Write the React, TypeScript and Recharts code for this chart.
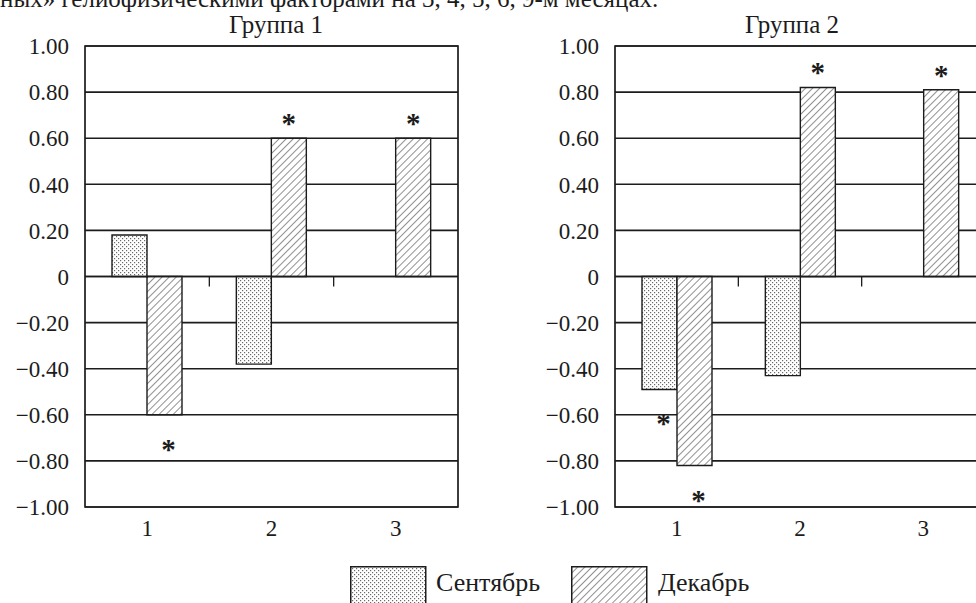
import React from 'react'
import {
  BarChart,
  Bar,
  XAxis,
  YAxis,
  CartesianGrid,
  ReferenceArea,
  ReferenceLine,
  LabelList,
} from 'recharts'

// categories on the x axis
const categories = ['1', '2', '3']

// Группа 1
const sep1: (number | null)[] = [0.18, -0.38, null]
const dec1: (number | null)[] = [-0.6, 0.6, 0.6]
const sepSig1 = [false, false, false]
const decSig1 = [true, true, true]

// Группа 2
const sep2: (number | null)[] = [-0.49, -0.43, null]
const dec2: (number | null)[] = [-0.82, 0.82, 0.81]
const sepSig2 = [true, false, false]
const decSig2 = [true, true, true]

const yTicks = [-1, -0.8, -0.6, -0.4, -0.2, 0, 0.2, 0.4, 0.6, 0.8, 1]

const FONT = '"Liberation Serif", "DejaVu Serif", serif'
const INK = '#1c1c1c'

function fmtTick(v: number): string {
  if (v === 0) return '0'
  return v.toFixed(2).replace('-', '\u2212')
}

function YTick(props: any) {
  const { x, y, payload } = props
  return (
    <text x={x} y={y} dy="0.36em" textAnchor="end" fontFamily={FONT} fontSize={23} fill={INK}>
      {fmtTick(payload.value)}
    </text>
  )
}

function XTick(props: any) {
  const { x, y, payload } = props
  return (
    <text x={x} y={y} dy="0.75em" textAnchor="middle" fontFamily={FONT} fontSize={23} fill={INK}>
      {payload.value}
    </text>
  )
}

/** Star marks for significant values: above positive bars, below negative ones */
function makeStar(values: (number | null)[], sig: boolean[]) {
  return (props: any) => {
    const i = props.index
    if (i == null || !sig[i]) return null
    const v = values[i]
    if (v == null) return null
    const vb = props.viewBox || props
    const x = Number(vb.x)
    const y = Number(vb.y)
    const w = Number(vb.width)
    const h = Number(vb.height)
    const top = Math.min(y, y + h)
    const bottom = Math.max(y, y + h)
    const cx = v >= 0 ? x + w / 2 : x + w / 2 + 4
    const cy = v >= 0 ? top - 18 : bottom + 31
    return (
      <text
        key={`star-${i}`}
        x={cx}
        y={cy + 13}
        textAnchor="middle"
        fontFamily={FONT}
        fontSize={29}
        fontWeight="bold"
        fill={INK}
      >
        *
      </text>
    )
  }
}

/** zero line with small ticks at category boundaries */
function ZeroLine(props: any) {
  const { x1, x2, y1 } = props
  const step = (x2 - x1) / categories.length
  return (
    <g>
      <line x1={x1} x2={x2} y1={y1} y2={y1} stroke={INK} strokeWidth={1.6} />
      {categories.slice(1).map((_, k) => (
        <line
          key={k}
          x1={x1 + step * (k + 1)}
          x2={x1 + step * (k + 1)}
          y1={y1}
          y2={y1 + 10}
          stroke={INK}
          strokeWidth={1.3}
        />
      ))}
    </g>
  )
}

interface PanelProps {
  sep: (number | null)[]
  dec: (number | null)[]
  sepSig: boolean[]
  decSig: boolean[]
  width: number
  margin: { top: number; right: number; bottom: number; left: number }
}

function Panel({ sep, dec, sepSig, decSig, width, margin }: PanelProps) {
  const data = categories.map((c, i) => ({ cat: c, sep: sep[i], dec: dec[i] }))
  return (
    <BarChart
      width={width}
      height={545}
      data={data}
      margin={margin}
      barGap={0}
      barSize={35}
    >
      <CartesianGrid vertical={false} stroke={INK} strokeWidth={1.6} />
      <XAxis
        dataKey="cat"
        axisLine={false}
        tickLine={false}
        height={30}
        tickMargin={6}
        tick={<XTick />}
      />
      <YAxis
        domain={[-1, 1]}
        ticks={yTicks}
        interval={0}
        width={70}
        axisLine={false}
        tickLine={false}
        tickMargin={10}
        tick={<YTick />}
      />
      <ReferenceArea
        y1={-1}
        y2={1}
        fill="none"
        fillOpacity={0}
        stroke={INK}
        strokeWidth={1.7}
        ifOverflow="visible"
      />
      <ReferenceLine y={0} shape={<ZeroLine />} />
      <Bar
        dataKey="sep"
        fill="url(#dotsPat)"
        stroke={INK}
        strokeWidth={1.4}
        isAnimationActive={false}
      >
        <LabelList dataKey="sep" content={makeStar(sep, sepSig)} />
      </Bar>
      <Bar
        dataKey="dec"
        fill="url(#hatchPat)"
        stroke={INK}
        strokeWidth={1.4}
        isAnimationActive={false}
      >
        <LabelList dataKey="dec" content={makeStar(dec, decSig)} />
      </Bar>
    </BarChart>
  )
}

function Swatch({ fill }: { fill: string }) {
  return (
    <svg width={77} height={40} style={{ display: 'block' }}>
      <rect x={0.75} y={0.75} width={75} height={60} fill={fill} stroke={INK} strokeWidth={1.5} />
    </svg>
  )
}

export default function App() {
  return (
    <div
      style={{
        position: 'absolute',
        left: 0,
        top: 0,
        width: 976,
        height: 603,
        overflow: 'hidden',
        background: '#fff',
        fontFamily: FONT,
        color: INK,
      }}
    >
      <svg width={0} height={0} style={{ position: 'absolute' }}>
        <defs>
          <pattern id="dotsPat" width={4} height={4} patternUnits="userSpaceOnUse">
            <rect width={4} height={4} fill="#fff" />
            <rect x={0} y={0} width={1.2} height={1.2} fill="#6a6a6a" />
            <rect x={2} y={2} width={1.2} height={1.2} fill="#6a6a6a" />
          </pattern>
          <pattern
            id="hatchPat"
            width={5}
            height={5}
            patternUnits="userSpaceOnUse"
            patternTransform="rotate(45)"
          >
            <rect width={5} height={5} fill="#fff" />
            <line x1={0} y1={0} x2={0} y2={5} stroke="#555" strokeWidth={1.3} />
          </pattern>
        </defs>
      </svg>

      {/* cut-off caption line from the page above */}
      <div
        style={{
          position: 'absolute',
          left: 0,
          top: -14,
          fontSize: 25,
          lineHeight: '25px',
          whiteSpace: 'nowrap',
        }}
      >
        ных» гелиофизическими факторами на 3, 4, 5, 6, 9-м месяцах.
      </div>

      <div
        style={{
          position: 'absolute',
          left: 176,
          top: 12,
          width: 200,
          textAlign: 'center',
          fontSize: 25,
          lineHeight: '25px',
        }}
      >
        Группа 1
      </div>
      <div
        style={{
          position: 'absolute',
          left: 692,
          top: 12,
          width: 200,
          textAlign: 'center',
          fontSize: 25,
          lineHeight: '25px',
        }}
      >
        Группа 2
      </div>

      <div style={{ position: 'absolute', left: 0, top: 0 }}>
        <Panel
          sep={sep1}
          dec={dec1}
          sepSig={sepSig1}
          decSig={decSig1}
          width={480}
          margin={{ top: 46, right: 22, bottom: 8, left: 15 }}
        />
      </div>
      <div style={{ position: 'absolute', left: 490, top: 0 }}>
        <Panel
          sep={sep2}
          dec={dec2}
          sepSig={sepSig2}
          decSig={decSig2}
          width={520}
          margin={{ top: 46, right: 25, bottom: 8, left: 55 }}
        />
      </div>

      {/* legend */}
      <div style={{ position: 'absolute', left: 350, top: 566 }}>
        <Swatch fill="url(#dotsPat)" />
      </div>
      <div
        style={{ position: 'absolute', left: 436, top: 570, fontSize: 26, lineHeight: '26px' }}
      >
        Сентябрь
      </div>
      <div style={{ position: 'absolute', left: 571, top: 566 }}>
        <Swatch fill="url(#hatchPat)" />
      </div>
      <div
        style={{ position: 'absolute', left: 658, top: 570, fontSize: 26, lineHeight: '26px' }}
      >
        Декабрь
      </div>
    </div>
  )
}
